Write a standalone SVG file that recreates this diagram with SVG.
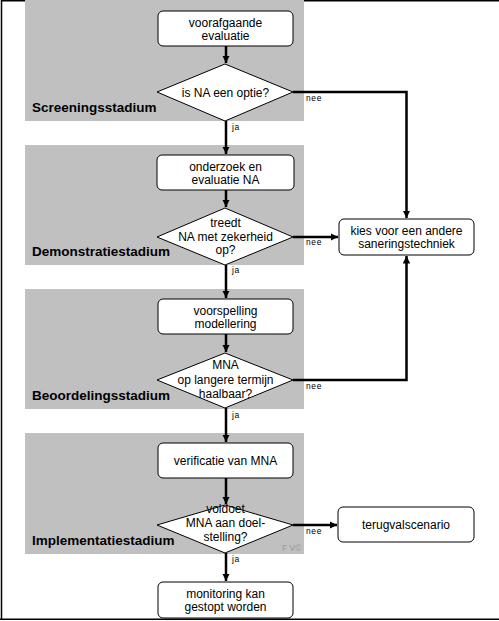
<svg xmlns="http://www.w3.org/2000/svg" width="499" height="621" viewBox="0 0 499 621">
<style>
.band{fill:#c0c0c0}
.box{fill:#fff;stroke:#000;stroke-width:1}
.dia{fill:#fff;stroke:#000;stroke-width:1}
.t{font-family:"Liberation Sans",Arial,sans-serif;font-size:12px;fill:#000;text-anchor:middle}
.stage{font-family:"Liberation Sans",Arial,sans-serif;font-size:13.5px;font-weight:bold;fill:#000}
.small{font-family:"Liberation Sans",Arial,sans-serif;font-size:8.5px;fill:#000;letter-spacing:0.6px}
.conn{fill:none;stroke:#000;stroke-width:2.5}
</style>
<defs>
<marker id="ah" viewBox="0 0 8 8" refX="8" refY="4" markerWidth="3" markerHeight="3" markerUnits="strokeWidth" orient="auto">
<path d="M0,0 L8,4 L0,8 Z" fill="#000"/>
</marker>
</defs>
<rect x="0" y="0" width="499" height="621" fill="#fff"/>
<g id="frame">
<path d="M1.5,620 V0.8 H499" fill="none" stroke="#000" stroke-width="1.5"/>
<path d="M0,619.3 H499" fill="none" stroke="#000" stroke-width="1.5"/>
</g>
<g id="bands">
<rect class="band" x="25" y="0" width="279" height="121"/>
<rect class="band" x="25" y="145" width="279" height="120"/>
<rect class="band" x="25" y="289" width="279" height="120"/>
<rect class="band" x="25" y="433" width="279" height="121"/>
<text class="stage" x="32" y="112">Screeningsstadium</text>
<text class="stage" x="32" y="256">Demonstratiestadium</text>
<text class="stage" x="32" y="400">Beoordelingsstadium</text>
<text class="stage" x="32" y="545">Implementatiestadium</text>
<text x="282" y="551" font-family="'Liberation Sans',Arial,sans-serif" font-size="8.5" fill="#999">F V©</text>
</g>
<g id="connectors">
<path class="conn" d="M226,46 V63" marker-end="url(#ah)"/>
<path class="conn" d="M226,121 V154" marker-end="url(#ah)"/>
<path class="conn" d="M226,190 V207" marker-end="url(#ah)"/>
<path class="conn" d="M226,265 V298" marker-end="url(#ah)"/>
<path class="conn" d="M226,334 V352" marker-end="url(#ah)"/>
<path class="conn" d="M226,408 V442" marker-end="url(#ah)"/>
<path class="conn" d="M226,478 V504" marker-end="url(#ah)"/>
<path class="conn" d="M226,553 V581" marker-end="url(#ah)"/>
<path class="conn" d="M293,92 H406.5 V218" marker-end="url(#ah)"/>
<path class="conn" d="M293,237 H338" marker-end="url(#ah)"/>
<path class="conn" d="M293,380 H406.5 V256" marker-end="url(#ah)"/>
<path class="conn" d="M293,525 H337" marker-end="url(#ah)"/>
<text class="small" x="306" y="101">nee</text>
<text class="small" x="232" y="130">ja</text>
<text class="small" x="306" y="245">nee</text>
<text class="small" x="232" y="273">ja</text>
<text class="small" x="306" y="389">nee</text>
<text class="small" x="232" y="418">ja</text>
<text class="small" x="306" y="534">nee</text>
<text class="small" x="232" y="562">ja</text>
</g>
<g id="n1">
<rect class="box" x="158" y="11" width="135" height="35" rx="5"/>
<text class="t" x="225.5" y="27">voorafgaande</text>
<text class="t" x="225.5" y="39.5">evaluatie</text>
</g>
<g id="d1">
<polygon class="dia" points="157,92 225,64 293,92 225,121"/>
<text class="t" x="225.5" y="96.5">is NA  een optie?</text>
</g>
<g id="n2">
<rect class="box" x="157" y="155" width="137" height="35" rx="5"/>
<text class="t" x="225.5" y="171">onderzoek en</text>
<text class="t" x="225.5" y="183.5">evaluatie NA</text>
</g>
<g id="d2">
<polygon class="dia" points="157,237 225,208 293,237 225,265"/>
<text class="t" x="225.5" y="226.5">treedt</text>
<text class="t" x="225.5" y="240.5">NA met zekerheid</text>
<text class="t" x="225.5" y="253.5">op?</text>
</g>
<g id="n3">
<rect class="box" x="158" y="299" width="135" height="35" rx="5"/>
<text class="t" x="225.5" y="315">voorspelling</text>
<text class="t" x="225.5" y="327.5">modellering</text>
</g>
<g id="d3">
<polygon class="dia" points="157,380 225,353 293,380 225,408"/>
<text class="t" x="225.5" y="369">MNA</text>
<text class="t" x="225.5" y="383.5">op langere termijn</text>
<text class="t" x="225.5" y="397.5">haalbaar?</text>
</g>
<g id="n4">
<rect class="box" x="158" y="443" width="135" height="35" rx="5"/>
<text class="t" x="225.5" y="465">verificatie van MNA</text>
</g>
<g id="d4">
<polygon class="dia" points="157,525 225,505 293,525 225,553"/>
<text class="t" x="225.5" y="513">voldoet</text>
<text class="t" x="225.5" y="527">MNA aan doel-</text>
<text class="t" x="225.5" y="541">stelling?</text>
</g>
<g id="n5">
<rect class="box" x="158" y="582" width="135" height="36" rx="5"/>
<text class="t" x="225.5" y="598">monitoring kan</text>
<text class="t" x="225.5" y="611">gestopt worden</text>
</g>
<g id="n6">
<rect class="box" x="339" y="219" width="135" height="36" rx="5"/>
<text class="t" x="406.5" y="234.5">kies voor een andere</text>
<text class="t" x="406.5" y="247.5">saneringstechniek</text>
</g>
<g id="n7">
<rect class="box" x="338" y="507" width="136" height="35" rx="5"/>
<text class="t" x="406" y="529">terugvalscenario</text>
</g>
</svg>
